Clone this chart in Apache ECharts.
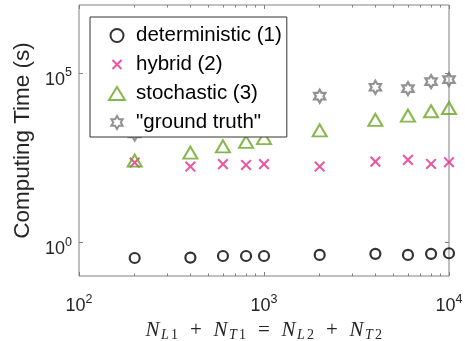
<!DOCTYPE html>
<html><head><meta charset="utf-8">
<script src="https://cdn.jsdelivr.net/npm/echarts@6/dist/echarts.min.js"></script>
<style>html,body{margin:0;padding:0;background:#fff}#c{width:465px;height:341px}</style>
</head><body><div id="c"></div>
<script>
// ---- data ----
const xValues = [200, 400, 600, 800, 1000, 2000, 4000, 6000, 8000, 10000];
const deterministic = [0.34, 0.35, 0.39, 0.39, 0.39, 0.42, 0.45, 0.42, 0.45, 0.47];
const hybrid = [222, 170, 200, 190, 200, 170, 238, 268, 203, 229];
const stochastic = [255, 440, 670, 910, 1170, 2000, 4060, 5400, 7300, 9100];
const groundTruth = [1560, 4000, 6000, 8000, 10000, 20300, 37300, 34000, 54600, 62700];
const seriesNames = ['deterministic (1)', 'hybrid (2)', 'stochastic (3)', '"ground truth"'];
const xMajorTicks = [100, 1000, 10000];
const xMinorTicks = [200, 300, 400, 500, 600, 700, 800, 900, 2000, 3000, 4000, 5000, 6000, 7000, 8000, 9000];
const yMajorTicks = [1, 100000];
const xRange = [100, 10000];
const yRange = [0.1, 10000000];

// ---- style ----
const SANS = "'Liberation Sans', Arial, Helvetica, sans-serif";
const SERIF = "'Liberation Serif', 'Times New Roman', serif";
const AX = '#808080';
const TXT = '#262626';
const CROSS = 'path://M0 0M13 13M2 2L11 11M11 2L2 11';
const HEX = 'path://M50 0L64.4 25L93.3 25L78.9 50L93.3 75L64.4 75L50 100L35.6 75L6.7 75L21.1 50L6.7 25L35.6 25Z';

function pts(ys) { return xValues.map((x, i) => [x, ys[i]]); }
function pow10(v) { return '{b|10}{s|' + Math.round(Math.log10(v)) + '}'; }
const xTickRich = {
  b: { fontSize: 18, fontFamily: SANS, color: TXT },
  s: { fontSize: 12.5, fontFamily: SANS, color: TXT, padding: [0, 0, 14, 0] }
};
const yTickRich = {
  b: { fontSize: 18, fontFamily: SANS, color: TXT, padding: [14, 0, 0, 0] },
  s: { fontSize: 12.5, fontFamily: SANS, color: TXT }
};

function xAx(pos, ticks, len, labels) {
  return {
    type: 'log', logBase: 10, min: xRange[0], max: xRange[1], position: pos,
    axisLine: { show: false },
    splitLine: { show: false },
    axisTick: { show: true, inside: true, length: len, customValues: ticks, lineStyle: { color: AX, width: 1 } },
    axisLabel: labels ? { show: true, customValues: ticks, formatter: pow10, margin: 17, rich: xTickRich } : { show: false }
  };
}
function yAx(pos, labels) {
  return {
    type: 'log', logBase: 10, min: yRange[0], max: yRange[1], position: pos,
    axisLine: { show: false },
    splitLine: { show: false },
    axisTick: { show: true, inside: true, length: 4, customValues: yMajorTicks, lineStyle: { color: AX, width: 1 } },
    axisLabel: labels ? { show: true, customValues: yMajorTicks, formatter: pow10, margin: 7, rich: yTickRich } : { show: false }
  };
}

const xAxes = [xAx('bottom', xMajorTicks, 4, true), xAx('bottom', xMinorTicks, 2.5, false),
               xAx('top', xMajorTicks, 4, false), xAx('top', xMinorTicks, 2.5, false)];
xAxes[0].name = '{n|N}{si|L}{sn|1}{o|+}{n|N}{si|T}{sn|1}{o|=}{n|N}{si|L}{sn|2}{o|+}{n|N}{si|T}{sn|2}';
xAxes[0].nameLocation = 'middle';
xAxes[0].nameGap = 43;
xAxes[0].nameTextStyle = {
  rich: {
    n: { fontFamily: SERIF, fontStyle: 'italic', fontSize: 21, color: TXT, width: 16, align: 'center' },
    si: { fontFamily: SERIF, fontStyle: 'italic', fontSize: 14, color: TXT, width: 9, padding: [8, 0, 0, 0] },
    sn: { fontFamily: SERIF, fontSize: 14, color: TXT, width: 10, padding: [8, 0, 0, 0] },
    o: { fontFamily: SERIF, fontSize: 21, color: TXT, width: 33, align: 'center' }
  }
};
const yAxes = [yAx('left', true), yAx('right', false)];
yAxes[0].name = 'Computing Time (s)';
yAxes[0].nameLocation = 'middle';
yAxes[0].nameGap = 44;
yAxes[0].nameTextStyle = { fontFamily: SANS, fontSize: 22.5, color: TXT };

function hollow(color, w) { return { color: 'rgba(0,0,0,0)', borderColor: color, borderWidth: w }; }

const option = {
  animation: false,
  backgroundColor: '#fff',
  grid: { left: 79, right: 16, top: 5, bottom: 65, show: true, borderColor: AX, borderWidth: 1, backgroundColor: 'rgba(0,0,0,0)', containLabel: false, outerBoundsMode: 'none' },
  xAxis: xAxes,
  yAxis: yAxes,
  legend: {
    orient: 'vertical', left: 90, top: 17,
    padding: [8, 5, 4, 18],
    itemWidth: 16, itemHeight: 13, itemGap: 8,
    backgroundColor: '#fff', borderColor: '#333', borderWidth: 1, borderRadius: 0,
    textStyle: { fontFamily: SANS, fontSize: 20.5, color: '#000', padding: [0, 0, 0, 6] },
    data: seriesNames
  },
  series: [
    { name: seriesNames[0], type: 'scatter', data: pts(deterministic), symbol: 'circle', symbolSize: 10, itemStyle: hollow('#000', 2.2), z: 3 },
    { name: seriesNames[1], type: 'scatter', data: pts(hybrid), symbol: CROSS, symbolSize: 14, itemStyle: hollow('#e7298a', 2), z: 3 },
    { name: seriesNames[2], type: 'scatter', data: pts(stochastic), symbol: 'triangle', symbolSize: [14, 12], itemStyle: hollow('#66a61e', 2), z: 3 },
    { name: seriesNames[3], type: 'scatter', data: pts(groundTruth), symbol: HEX, symbolKeepAspect: true, symbolSize: 13, itemStyle: hollow('#777777', 2.2), z: 3 }
  ]
};
const chart = echarts.init(document.getElementById('c'), null, { renderer: 'canvas' });
chart.setOption(option);
</script>
</body></html>
